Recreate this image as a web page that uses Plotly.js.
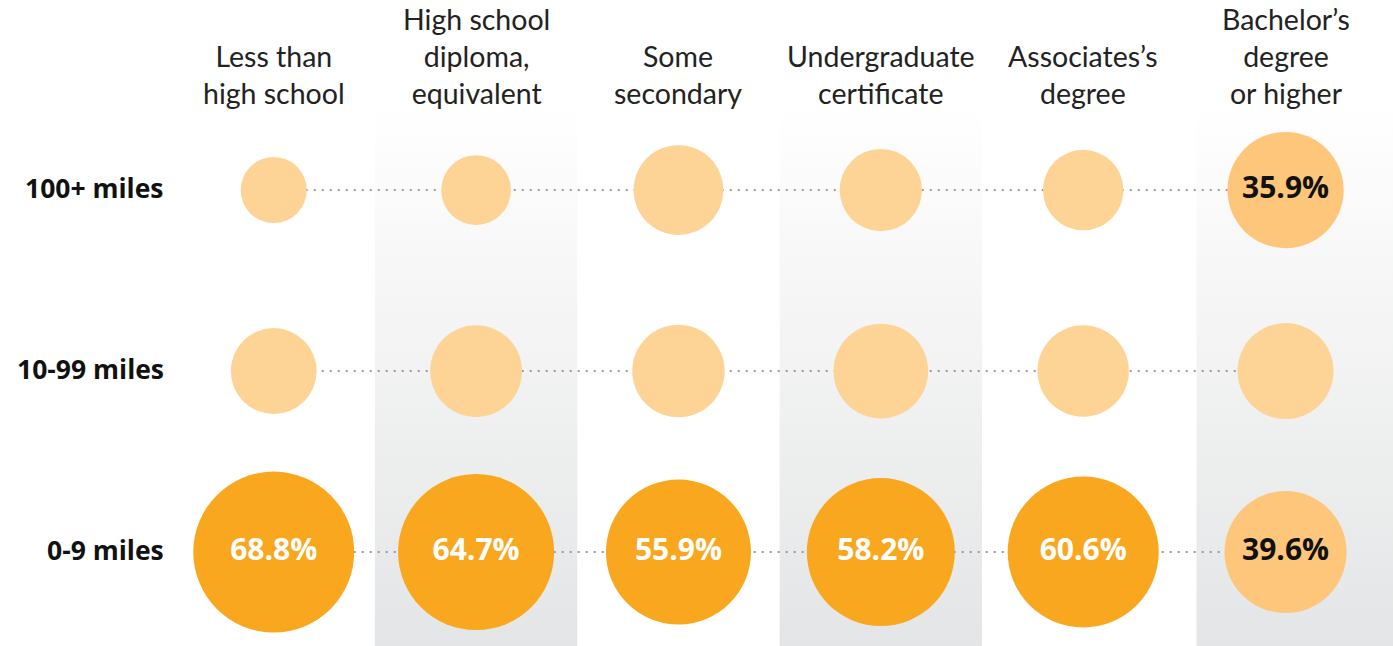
<!DOCTYPE html>
<html>
<head>
<meta charset="utf-8">
<script src="https://cdn.plot.ly/plotly-3.0.1.min.js"></script>
<style>html,body{margin:0;padding:0;background:#fff;}#chart{width:1393px;height:646px;}</style>
</head>
<body>
<div id="chart"></div>
<script>
// ---- data ----
const categories = ['Less than<br>high school', 'High school<br>diploma,<br>equivalent', 'Some<br>secondary',
  'Undergraduate<br>certificate', 'Associates’s<br>degree', 'Bachelor’s<br>degree<br>or higher'];
const rowLabels = ['100+ miles', '10-99 miles', '0-9 miles'];
const values100plus = [11.6, 12.9, 21.4, 18.0, 17.2, 35.9];
const values10to99 = [19.6, 22.4, 22.7, 23.8, 22.2, 24.5];
const values0to9 = [68.8, 64.7, 55.9, 58.2, 60.6, 39.6];
const rowValues = [values100plus, values10to99, values0to9];

// ---- style ----
const FONT = 'Lato, "Open Sans", sans-serif';
const BOLDFONT = '"Open Sans", Lato, sans-serif';
const DARK = '#F8A71F', MED = '#FEC67A', LIGHT = '#FDD396';
function colorFor(v) { return v > 50 ? DARK : (v > 30 ? MED : LIGHT); }
function textFor(v) { return v > 30 ? v.toFixed(1) + '%' : ''; }
function textColorFor(v) { return v > 50 ? '#ffffff' : '#111111'; }

const xIdx = categories.map((c, i) => i);
const nRows = rowLabels.length;
const yOf = r => nRows - 1 - r;

const XMIN = -1.3526, XMAX = 5.531;
const YMIN = -0.519, YMAX = 3.05;
const BAND_TOP = 2.48;

const traces = [];
// shaded bands behind alternate columns
xIdx.forEach(i => {
  if (i % 2 === 1) {
    const last = (i === xIdx.length - 1);
    const x0 = last ? i - 0.44 : i - 0.5, x1 = last ? XMAX + 0.2 : i + 0.5;
    traces.push({
      type: 'scatter', mode: 'none', fill: 'toself',
      x: [x0, x1, x1, x0, x0], y: [YMIN - 0.1, YMIN - 0.1, BAND_TOP, BAND_TOP, YMIN - 0.1],
      fillgradient: {type: 'vertical', colorscale: [[0, '#e3e4e5'], [1, '#ffffff']]},
      hoverinfo: 'skip', showlegend: false
    });
  }
});
// dotted connectors
rowLabels.forEach((r, ri) => {
  traces.push({
    type: 'scatter', mode: 'lines', x: xIdx, y: xIdx.map(() => yOf(ri)),
    line: {color: '#9a9a9a', width: 2, dash: '2px,6px'},
    hoverinfo: 'skip', showlegend: false
  });
});
// bubbles
rowLabels.forEach((r, ri) => {
  const vals = rowValues[ri];
  traces.push({
    type: 'scatter', mode: 'markers+text', name: r,
    x: xIdx, y: xIdx.map(() => yOf(ri)),
    marker: {size: vals, sizemode: 'area', sizeref: 0.005314, color: vals.map(colorFor), opacity: 1, line: {width: 0}},
    text: vals.map(textFor), textposition: 'middle center',
    textfont: {family: BOLDFONT, size: 30, weight: 700, color: vals.map(textColorFor)},
    cliponaxis: false, showlegend: false, hoverinfo: 'x+y'
  });
});

const annotations = [];
categories.forEach((c, i) => {
  annotations.push({
    x: i, y: BAND_TOP, xref: 'x', yref: 'y', xanchor: 'center', yanchor: 'bottom',
    text: c, showarrow: false, align: 'center', yshift: -9,
    font: {family: FONT, size: 28.5, color: '#222222'}
  });
});
rowLabels.forEach((r, ri) => {
  annotations.push({
    x: -0.53, y: yOf(ri), xref: 'x', yref: 'y', xanchor: 'right', yanchor: 'middle',
    text: r, showarrow: false, yshift: 2,
    font: {family: BOLDFONT, size: 26.5, weight: 700, color: '#111111'}
  });
});

const layout = {
  width: 1393, height: 646,
  margin: {l: 0, r: 0, t: 0, b: 0, pad: 0},
  paper_bgcolor: '#ffffff', plot_bgcolor: 'rgba(0,0,0,0)',
  xaxis: {range: [XMIN, XMAX], showgrid: false, zeroline: false, showticklabels: false, showline: false, fixedrange: true},
  yaxis: {range: [YMIN, YMAX], showgrid: false, zeroline: false, showticklabels: false, showline: false, fixedrange: true},
  annotations: annotations,
  showlegend: false
};

Plotly.newPlot('chart', traces, layout, {displayModeBar: false, staticPlot: true});
</script>
</body>
</html>
